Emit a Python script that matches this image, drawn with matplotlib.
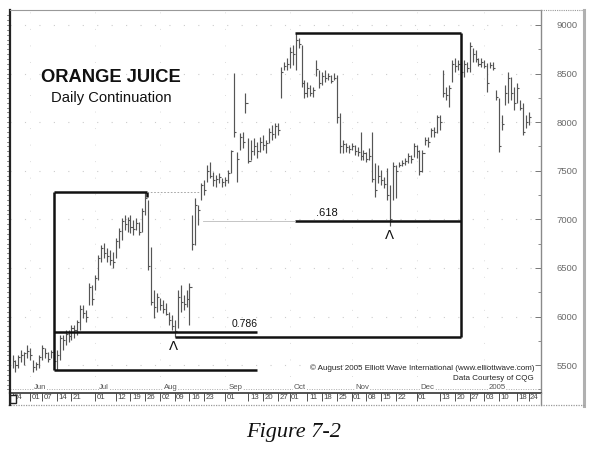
import numpy as np
import pandas as pd
import matplotlib
matplotlib.use('Agg')
import matplotlib.pyplot as plt
from matplotlib.ticker import MultipleLocator
from matplotlib.transforms import blended_transform_factory
from matplotlib.lines import Line2D
from matplotlib.patches import Rectangle

# ---------------- data (daily bars, price units as on the chart) ----------------
dates = pd.bdate_range('2004-05-24', periods=176)

high = [5604, 5553, 5604, 5656, 5636, 5707, 5677, 5553, 5532, 5604,
        5707, 5677, 5636, 5656, 5604, 5656, 5810, 5810, 5861, 5861,
        5913, 5913, 5964, 6119, 6119, 6067, 6345, 6325, 6428, 6633,
        6736, 6757, 6705, 6685, 6664, 6808, 6911, 7014, 7045, 7024,
        7045, 6993, 7014, 6973, 7117, 7282, 7199, 6716, 6273, 6242,
        6191, 6170, 6139, 6047, 6016, 5964, 6273, 6325, 6222, 6273,
        6345, 7045, 7220, 7148, 7374, 7405, 7559, 7590, 7487, 7457,
        7477, 7426, 7436, 7508, 7714, 8506, 7693, 7889, 7899, 8300,
        7837, 7817, 7837, 7796, 7847, 7868, 7817, 7940, 7971, 7992,
        7992, 8568, 8619, 8660, 8774, 8794, 8918, 8866, 8794, 8434,
        8413, 8383, 8362, 8640, 8537, 8516, 8537, 8506, 8486, 8506,
        8486, 8094, 7817, 7786, 7765, 7786, 7765, 7745, 7899, 7714,
        7693, 7734, 7899, 7580, 7559, 7508, 7436, 7528, 7354, 7590,
        7559, 7590, 7611, 7631, 7683, 7662, 7786, 7765, 7714, 7714,
        7847, 7847, 7940, 7950, 8074, 8074, 8537, 8362, 8383, 8640,
        8660, 8640, 8619, 8640, 8619, 8825, 8763, 8743, 8660, 8660,
        8640, 8609, 8619, 8619, 8331, 8249, 8074, 8383, 8516, 8465,
        8362, 8403, 8228, 8197, 8074, 8104]

low = [5470, 5429, 5470, 5532, 5501, 5573, 5553, 5429, 5450, 5470,
       5553, 5573, 5532, 5573, 5501, 5450, 5553, 5656, 5707, 5738,
       5759, 5779, 5810, 5861, 5985, 5944, 6119, 6119, 6273, 6376,
       6561, 6602, 6561, 6530, 6499, 6602, 6705, 6787, 6890, 6870,
       6860, 6839, 6890, 6839, 6870, 7045, 6479, 6119, 5985, 6047,
       6067, 6036, 6016, 5913, 5861, 5789, 5882, 6047, 6067, 6098,
       5913, 6685, 6736, 6942, 7199, 7251, 7384, 7426, 7343, 7333,
       7374, 7333, 7343, 7374, 7477, 7847, 7384, 7714, 7734, 8094,
       7580, 7611, 7662, 7631, 7693, 7714, 7683, 7786, 7817, 7837,
       7868, 8249, 8537, 8537, 8557, 8588, 8537, 8763, 8362, 8249,
       8259, 8269, 8259, 8475, 8352, 8383, 8413, 8434, 8403, 8434,
       7992, 7683, 7683, 7693, 7683, 7714, 7662, 7652, 7611, 7611,
       7590, 7611, 7384, 7230, 7374, 7354, 7323, 7199, 6932, 7199,
       7220, 7539, 7549, 7559, 7580, 7580, 7642, 7631, 7457, 7487,
       7765, 7745, 7847, 7847, 7889, 7920, 8259, 8228, 8156, 8413,
       8516, 8537, 8486, 8465, 8516, 8516, 8619, 8619, 8578, 8568,
       8557, 8311, 8557, 8537, 8228, 7693, 7920, 8177, 8197, 8228,
       8125, 8197, 8125, 7868, 7940, 7971]

close = [5540, 5500, 5580, 5600, 5620, 5650, 5600, 5480, 5510, 5580,
         5680, 5620, 5560, 5630, 5540, 5600, 5780, 5760, 5820, 5800,
         5880, 5860, 5940, 6080, 6040, 6000, 6300, 6180, 6400, 6600,
         6700, 6650, 6620, 6580, 6560, 6780, 6880, 6980, 6950, 6990,
         6920, 6900, 6960, 6870, 7090, 7220, 6520, 6150, 6100, 6200,
         6120, 6080, 6030, 5960, 5900, 5850, 6200, 6150, 6130, 6180,
         6300, 6750, 7150, 7100, 7350, 7300, 7500, 7450, 7400, 7420,
         7440, 7380, 7400, 7480, 7700, 7900, 7620, 7850, 7800, 8200,
         7600, 7700, 7750, 7700, 7800, 7760, 7790, 7900, 7880, 7960,
         7920, 8520, 8580, 8600, 8720, 8700, 8850, 8800, 8400, 8300,
         8350, 8300, 8330, 8550, 8400, 8480, 8450, 8470, 8420, 8450,
         8050, 7750, 7780, 7740, 7720, 7750, 7700, 7690, 7650, 7680,
         7620, 7650, 7420, 7300, 7450, 7400, 7360, 7250, 7000, 7550,
         7500, 7560, 7580, 7600, 7650, 7620, 7750, 7700, 7500, 7680,
         7820, 7800, 7920, 7900, 8050, 8000, 8300, 8280, 8350, 8600,
         8580, 8600, 8520, 8600, 8560, 8780, 8700, 8650, 8600, 8620,
         8580, 8400, 8590, 8560, 8260, 7750, 7980, 8300, 8450, 8300,
         8200, 8350, 8150, 7900, 8000, 8050]

day_ticks = ['2004-05-24', '2004-06-01', '2004-06-07', '2004-06-14', '2004-06-21',
             '2004-07-01', '2004-07-12', '2004-07-19', '2004-07-26', '2004-08-02',
             '2004-08-09', '2004-08-16', '2004-08-23', '2004-09-01', '2004-09-13',
             '2004-09-20', '2004-09-27', '2004-10-01', '2004-10-11', '2004-10-18',
             '2004-10-25', '2004-11-01', '2004-11-08', '2004-11-15', '2004-11-22',
             '2004-12-01', '2004-12-13', '2004-12-20', '2004-12-27', '2005-01-03',
             '2005-01-10', '2005-01-18', '2005-01-24']
month_starts = ['2004-06-01', '2004-07-01', '2004-08-02', '2004-09-01',
                '2004-10-01', '2004-11-01', '2004-12-01', '2005-01-03']
month_names = ['Jun', 'Jul', 'Aug', 'Sep', 'Oct', 'Nov', 'Dec', '2005']

# Elliott wave analysis anchors (bar indices)
i_low1, i_high1 = 15, 45      # June low / July high
i_low2, i_high2 = 55, 96      # August low / October high
ext1_end, box2_right, thin_start = 83, 152, 64.6

# ---------------- figure ----------------
W, H = 592, 449
fig = plt.figure(figsize=(W / 100, H / 100), dpi=100)
fig.patch.set_facecolor('white')
fx = lambda px: px / W
fy = lambda py: 1 - py / H

ax = fig.add_axes([fx(10), fy(393), fx(541) - fx(10), fy(10) - fy(393)])
x = np.arange(len(high))
bar_col = '#555555'
ax.vlines(x, low, high, color=bar_col, lw=0.85)
ax.hlines(close, x, x + 0.7, color=bar_col, lw=0.8)

ax.set_xlim(-0.85, 179.2)
ax.set_ylim(5213, 9154)

# y axis on the right
ax.yaxis.tick_right()
ax.yaxis.set_major_locator(MultipleLocator(500))
ax.yaxis.set_minor_locator(MultipleLocator(250))
ax.tick_params(axis='y', which='major', direction='in', length=4, width=0.7,
               colors='#777777', labelsize=6.8, pad=11, labelcolor='#6a6a6a')
ax.tick_params(axis='y', which='minor', direction='in', length=2.5, width=0.6,
               colors='#777777')
for lab in ax.get_yticklabels():
    lab.set_fontfamily('Liberation Sans')

# x axis: day ticks drawn as short separators with labels to their right
tick_idx = [dates.get_loc(pd.Timestamp(d)) for d in day_ticks]
ax.set_xticks(tick_idx)
ax.set_xticklabels([])
ax.tick_params(axis='x', direction='out', length=6, width=0.6, colors='#333333')
trans = blended_transform_factory(ax.transData, ax.transAxes)
for d, i in zip(day_ticks, tick_idx):
    ax.text(i + 0.5, -0.013, pd.Timestamp(d).strftime('%d'), transform=trans,
            ha='left', va='center', fontsize=5.6, color='#444444',
            family='Liberation Sans', clip_on=False)

# month row
ax.plot([0, 1], [0.011, 0.011], transform=ax.transAxes, color='#aaaaaa',
        lw=0.7, linestyle=(0, (1, 1.5)))
for d, name in zip(month_starts, month_names):
    i = dates.get_loc(pd.Timestamp(d))
    ax.text(i + 1.3, 0.014, name, transform=trans, ha='left', va='center',
            fontsize=5.6, color='#555555', family='Liberation Sans',
            bbox=dict(facecolor='white', edgecolor='none', pad=0.3))

# faint dotted grid
ax.grid(axis='y', which='major', color='#cccccc', lw=0.8, linestyle=(0, (1, 12)))
for d in month_starts:
    ax.axvline(dates.get_loc(pd.Timestamp(d)), color='#dddddd', lw=0.7,
               linestyle=(0, (1, 16)), zorder=0)

# spines
ax.spines['left'].set_color('#222222')
ax.spines['left'].set_linewidth(1.6)
ax.spines['right'].set_color('#8a8a8a')
ax.spines['right'].set_linewidth(1.0)
ax.spines['top'].set_color('#999999')
ax.spines['top'].set_linestyle((0, (1, 1)))
ax.spines['bottom'].set_color('#333333')
ax.spines['bottom'].set_linewidth(1.2)

# ruler ticks on the left edge
ltrans = blended_transform_factory(ax.transAxes, ax.transData)
for v in np.arange(5250, 9150, 50):
    ax.plot([-0.006, 0], [v, v], transform=ltrans, color='#555555', lw=0.5,
            clip_on=False)

# ---------------- Elliott wave annotations ----------------
blk = dict(color='#111111', lw=1.8, solid_capstyle='butt')
lo1, hi1 = low[i_low1], high[i_high1]
r786 = hi1 - 0.786 * (hi1 - lo1)
lo2, hi2 = low[i_low2], high[i_high2]
r618 = hi2 - 0.618 * (hi2 - lo2)

xl = i_low1 - 0.9
ax.plot([xl, xl], [lo1, hi1], **blk)
ax.plot([xl, i_high1 + 0.6], [hi1, hi1], **blk)
ax.plot([i_high1 + 0.6, i_high1 + 0.6], [hi1, hi1 - 50], **blk)
ax.plot([i_high1 + 0.6, thin_start - 1], [hi1, hi1], color='#999999', lw=0.6,
        linestyle=(0, (2, 2)))
ax.plot([xl, ext1_end], [lo1, lo1], **blk)
ax.plot([xl, ext1_end], [r786, r786], **blk)
ax.text(ext1_end, r786 + 25, '0.786', ha='right', va='bottom', fontsize=7.5,
        family='Liberation Sans', color='#111111')

x2 = i_low2 + 0.1
ax.plot([x2, box2_right], [lo2, lo2], **blk)
ax.plot([box2_right, box2_right], [lo2, hi2], **blk)
ax.plot([i_high2 - 0.2, box2_right], [hi2, hi2], **blk)
ax.plot([i_high2 - 0.2, box2_right], [r618, r618], **blk)
ax.plot([thin_start, i_high2 - 0.2], [r618, r618], color='#bbbbbb', lw=0.6)
ax.text(i_high2 + 7, r618 + 25, '.618', ha='left', va='bottom', fontsize=8,
        family='Liberation Sans', color='#111111')

ax.text(i_low2 - 0.3, lo2 - 95, 'Λ', ha='center', va='center', fontsize=9.5,
        color='#111111')
ax.text(128 - 0.2, low[128] - 95, 'Λ', ha='center', va='center', fontsize=9.5,
        color='#111111')

# ---------------- titles and notes ----------------
fig.text(fx(111), fy(78), 'ORANGE JUICE', ha='center', va='center',
         fontsize=13.2, fontweight='bold', family='Liberation Sans', color='#111111')
fig.text(fx(111), fy(98), 'Daily Continuation', ha='center', va='center',
         fontsize=10.6, family='Liberation Sans', color='#111111')
fig.text(fx(534), fy(368), '\u00a9 August 2005 Elliott Wave International (www.elliottwave.com)',
         ha='right', va='center', fontsize=5.8, family='Liberation Sans', color='#222222')
fig.text(fx(534), fy(378), 'Data Courtesy of CQG', ha='right', va='center',
         fontsize=5.8, family='Liberation Sans', color='#222222')
fig.text(fx(294), fy(433), 'Figure 7-2', ha='center', va='center', fontsize=16,
         style='italic', family='Liberation Serif', color='#111111')

# ---------------- outer frame ----------------
fig.add_artist(Line2D([fx(541), fx(584)], [fy(10), fy(10)], color='#999999', lw=0.8,
                      linestyle=(0, (1, 1))))
fig.add_artist(Line2D([fx(584), fx(584)], [fy(10), fy(406)], color='#b0b0b0', lw=2.2))
fig.add_artist(Line2D([fx(8), fx(584)], [fy(405), fy(405)], color='#999999', lw=0.9,
                      linestyle=(0, (1, 1))))
fig.add_artist(Line2D([fx(541), fx(541)], [fy(393), fy(405)], color='#8a8a8a', lw=1.0))
fig.add_artist(Line2D([fx(9.5), fx(9.5)], [fy(393), fy(405)], color='#222222', lw=1.6))
fig.add_artist(Rectangle((fx(10), fy(403)), fx(6), fy(395) - fy(403), facecolor='white',
                         edgecolor='#222222', lw=1.0))

fig.savefig('out.png', dpi=100, facecolor='white')
